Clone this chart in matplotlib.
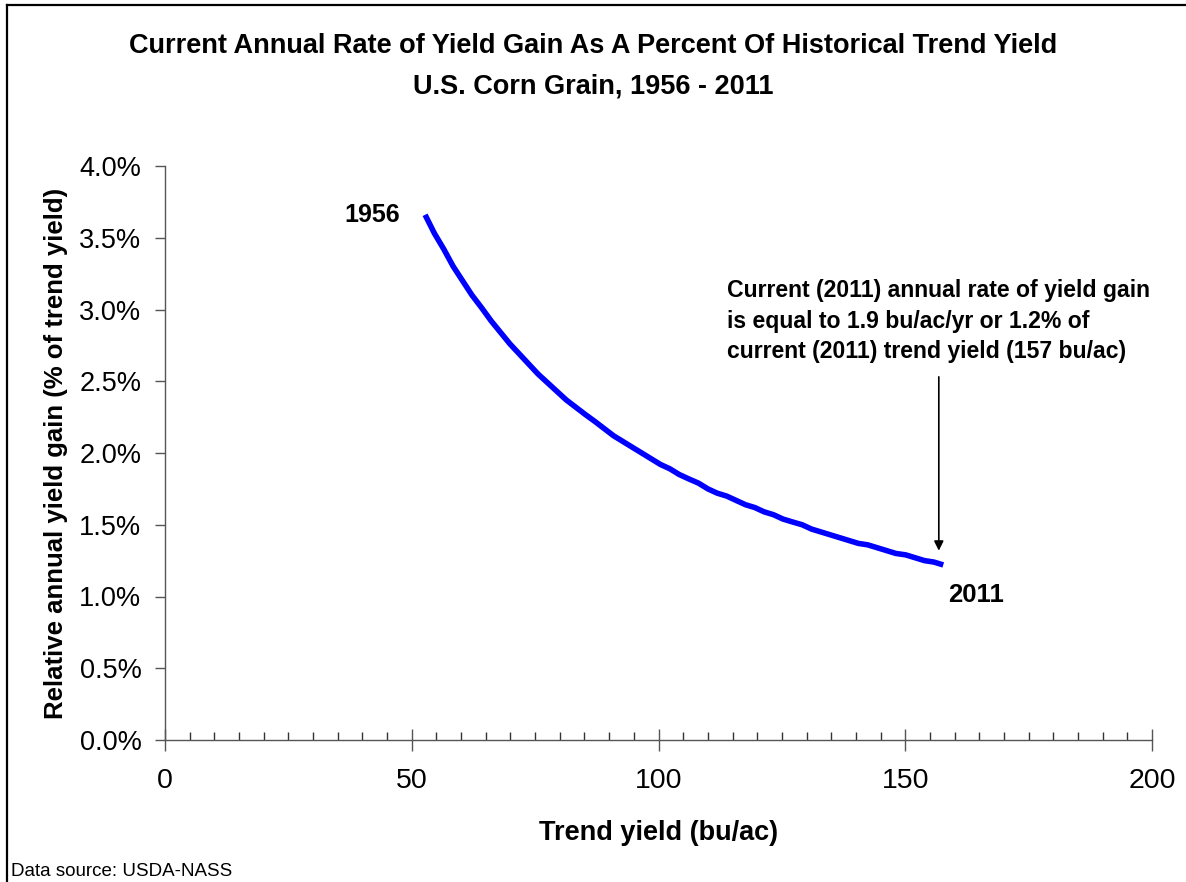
import matplotlib
matplotlib.use("Agg")
import matplotlib.pyplot as plt
from matplotlib.lines import Line2D
from matplotlib.ticker import MultipleLocator, FuncFormatter

plt.rcParams["font.family"] = ["Liberation Sans", "DejaVu Sans"]

# trend yield (bu/ac) and relative annual gain (%), 1956 .. 2011
years = list(range(1956, 2012))
trend_yield = [
    52.7, 54.6, 56.5, 58.4, 60.3, 62.2, 64.2, 66.1, 68.0, 69.9,
    71.8, 73.7, 75.6, 77.5, 79.4, 81.3, 83.2, 85.1, 87.1, 89.0,
    90.9, 92.8, 94.7, 96.6, 98.5, 100.4, 102.3, 104.2, 106.1, 108.1,
    110.0, 111.9, 113.8, 115.7, 117.6, 119.5, 121.4, 123.3, 125.2, 127.1,
    129.1, 131.0, 132.9, 134.8, 136.7, 138.6, 140.5, 142.4, 144.3, 146.2,
    148.1, 150.1, 152.0, 153.9, 155.8, 157.7,
]
rel_gain = [
    3.66, 3.53, 3.42, 3.30, 3.20, 3.10, 3.01, 2.92, 2.84, 2.76,
    2.69, 2.62, 2.55, 2.49, 2.43, 2.37, 2.32, 2.27, 2.22, 2.17,
    2.12, 2.08, 2.04, 2.00, 1.96, 1.92, 1.89, 1.85, 1.82, 1.79,
    1.75, 1.72, 1.70, 1.67, 1.64, 1.62, 1.59, 1.57, 1.54, 1.52,
    1.50, 1.47, 1.45, 1.43, 1.41, 1.39, 1.37, 1.36, 1.34, 1.32,
    1.30, 1.29, 1.27, 1.25, 1.24, 1.22,
]

title = ("Current Annual Rate of Yield Gain As A Percent Of Historical Trend Yield\n"
         "U.S. Corn Grain, 1956 - 2011")
note = ("Current (2011) annual rate of yield gain\n"
        "is equal to 1.9 bu/ac/yr or 1.2% of\n"
        "current (2011) trend yield (157 bu/ac)")
arrow_x = 156.8
arrow_top, arrow_tip = 2.55, 1.30

fig = plt.figure(figsize=(11.86, 8.82), dpi=100)
W, H = 1186, 882
ax = fig.add_axes([165 / W, 1 - 740 / H, (1152 - 165) / W, (740 - 166) / H])

ax.plot(trend_yield, rel_gain, color="#0000ff", lw=4.0, solid_capstyle="butt")

ax.set_xlim(0, 200)
ax.set_ylim(0, 4.0)
ax.xaxis.set_major_locator(MultipleLocator(50))
ax.xaxis.set_minor_locator(MultipleLocator(5))
ax.yaxis.set_major_locator(MultipleLocator(0.5))
ax.yaxis.set_major_formatter(FuncFormatter(lambda v, _: f"{v:.1f}%"))

for s in ("top", "right"):
    ax.spines[s].set_visible(False)
for s in ("left", "bottom"):
    ax.spines[s].set_color("#555555")
    ax.spines[s].set_linewidth(1.0)

ax.tick_params(axis="x", which="major", direction="inout", length=16, width=1,
               color="#555555", labelsize=20.5, pad=12)
ax.tick_params(axis="x", which="minor", direction="in", length=6, width=1, color="#333333")
ax.tick_params(axis="y", which="major", direction="out", length=7, width=1,
               color="#555555", labelsize=19.5, pad=10)

ax.set_xlabel("Trend yield (bu/ac)", fontsize=19.5, fontweight="bold", labelpad=19)
ax.set_ylabel("Relative annual yield gain (% of trend yield)", fontsize=18.5,
              fontweight="bold", labelpad=8)

ax.text(trend_yield[0] - 5.0, rel_gain[0], str(years[0]), ha="right", va="center",
        fontsize=18, fontweight="bold")
ax.text(158.7, 1.01, str(years[-1]), ha="left", va="center",
        fontsize=18.5, fontweight="bold")

ax.annotate("", xy=(arrow_x, arrow_tip), xytext=(arrow_x, arrow_top),
            arrowprops=dict(arrowstyle="-|>", color="black", lw=1.2, mutation_scale=14))
ax.text(113.9, 3.21, note, ha="left", va="top", fontsize=16.6, fontweight="bold",
        linespacing=1.42)

fig.text(0.5, 1 - 66 / H, title, ha="center", va="center", fontsize=19.5,
         fontweight="bold", linespacing=1.7)
fig.text(11 / W, 1 - 872 / H, "Data source: USDA-NASS", ha="left", va="center", fontsize=13.5)

# chart frame (top and left edges visible in the crop)
fig.add_artist(Line2D([7 / W, 7 / W], [0, 1 - 5 / H], color="black", lw=1.6,
                      transform=fig.transFigure))
fig.add_artist(Line2D([7 / W, 1], [1 - 5 / H, 1 - 5 / H], color="black", lw=1.6,
                      transform=fig.transFigure))

fig.savefig("out.png", dpi=100)
